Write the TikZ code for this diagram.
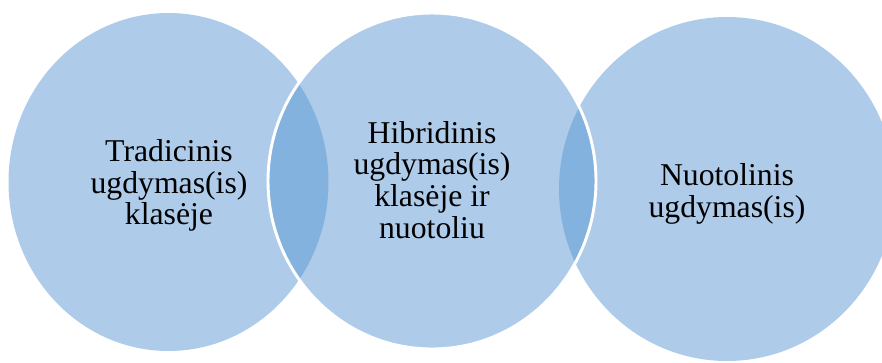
\documentclass[tikz,border=0pt]{standalone}
\usepackage{fontspec}
\setmainfont{Liberation Serif}
\usepackage{tikz}

\definecolor{venn}{RGB}{174,204,234}
\definecolor{venndark}{RGB}{132,178,222}

\begin{document}
\begin{tikzpicture}[x=0.75pt, y=-0.75pt,
  every node/.style={align=center, font=\fontsize{23.8}{23.8}\selectfont, inner sep=0pt}]
\useasboundingbox (0,0) rectangle (882,362);

\fill[venn] (168.5,182) ellipse [x radius=160, y radius=169];
\fill[venn] (727,189) ellipse [x radius=168, y radius=172];
\fill[venn] (432,181) ellipse [x radius=164, y radius=168];

\begin{scope}
\clip (168.5,182) ellipse [x radius=160, y radius=169];
\fill[venndark] (432,181) ellipse [x radius=164, y radius=168];
\end{scope}
\begin{scope}
\clip (727,189) ellipse [x radius=168, y radius=172];
\fill[venndark] (432,181) ellipse [x radius=164, y radius=168];
\end{scope}

\draw[white, line width=2.2pt] (432,181) ellipse [x radius=164, y radius=168];

\node (trad) at (169,185.5) {Tradicinis\\ugdymas(is)\\klasėje};
\node (hibr) at (432,180) {Hibridinis\\ugdymas(is)\\klasėje ir\\nuotoliu};
\node (nuot) at (727,194) {Nuotolinis\\ugdymas(is)};
\end{tikzpicture}
\end{document}
